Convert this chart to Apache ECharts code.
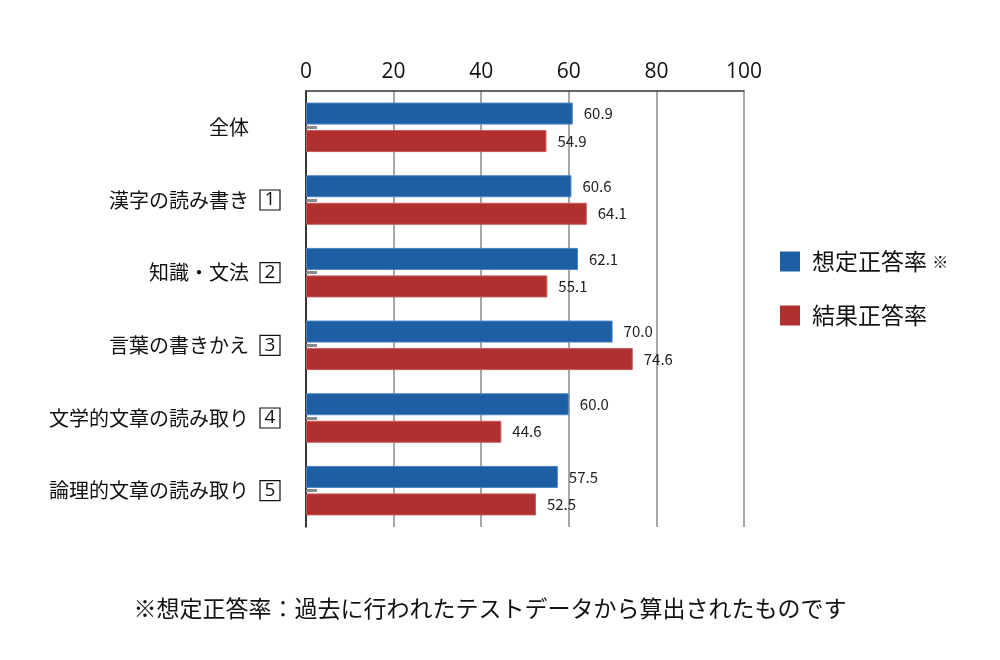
<!DOCTYPE html>
<html><head><meta charset="utf-8">
<script src="https://cdn.jsdelivr.net/npm/echarts@6/dist/echarts.min.js"></script>
<style>html,body{margin:0;padding:0;background:#fff}#c{width:1000px;height:660px}</style>
</head><body><div id="c"></div>
<script>
const categories = ['全体','漢字の読み書き','知識・文法','言葉の書きかえ','文学的文章の読み取り','論理的文章の読み取り'];
const itemNumbers = ['','1','2','3','4','5'];
const expectedRate = [60.9, 60.6, 62.1, 70.0, 60.0, 57.5];
const actualRate = [54.9, 64.1, 55.1, 74.6, 44.6, 52.5];
const xTicks = [0, 20, 40, 60, 80, 100];
const seriesNames = ['想定正答率','結果正答率'];
const footnote = '※想定正答率：過去に行われたテストデータから算出されたものです';

const FONT = '"Noto Sans CJK JP", "Noto Sans", sans-serif';
const chart = echarts.init(document.getElementById('c'), null, {renderer:'canvas'});
const labelStyle = {show:true, position:'right', distance:11, fontSize:15, color:'#222', fontFamily:FONT, formatter: p => p.value.toFixed(1)};
chart.setOption({
  animation:false,
  grid:{left:306, right:256, top:91, bottom:133, containLabel:false},
  xAxis:{
    type:'value', position:'top', min:xTicks[0], max:xTicks[xTicks.length-1], interval:20,
    axisLine:{show:true, lineStyle:{color:'#333', width:1.5}},
    axisTick:{show:false},
    axisLabel:{fontSize:21, color:'#111', margin:8, fontFamily:'"Open Sans", "Noto Sans", sans-serif'},
    splitLine:{show:true, lineStyle:{color:'#8a8a8a', width:1.5}}
  },
  yAxis:{
    type:'category', inverse:true, data:categories,
    axisLine:{show:true, lineStyle:{color:'#111', width:1.5}},
    axisTick:{show:true, inside:true, alignWithLabel:true, length:11, lineStyle:{color:'#8a8a8a', width:3}},
    axisLabel:{
      margin:26, fontFamily:FONT,
      formatter:(v, i) => '{t|' + v + '}{g|}' + (itemNumbers[i] ? '{b|' + itemNumbers[i] + '}' : '{e|}'),
      rich:{
        t:{fontSize:20, color:'#111', fontFamily:FONT},
        g:{width:11},
        b:{fontSize:19, color:'#111', fontFamily:'"Open Sans", "Noto Sans", sans-serif', borderColor:'#111', borderWidth:1.2, width:20, height:20, align:'center', lineHeight:20, padding:[0,0,0,0]},
        e:{width:20, height:20}
      }
    }
  },
  legend:{
    orient:'vertical', left:775, top:245, itemWidth:20, itemHeight:20, itemGap:31,
    icon:'rect', itemStyle:{borderWidth:0},
    textStyle:{fontSize:23, color:'#111', fontFamily:FONT, padding:[0,0,0,7],
      rich:{s:{fontSize:16, color:'#111', fontFamily:FONT}}},
    formatter: n => n === seriesNames[0] ? n + ' {s|※}' : n,
    data:seriesNames
  },
  series:[
    {name:seriesNames[0], type:'bar', data:expectedRate, barWidth:22, barGap:'25%',
     itemStyle:{color:'#1d5ea5', borderColor:'#4d83c0', borderWidth:1}, label:labelStyle},
    {name:seriesNames[1], type:'bar', data:actualRate, barWidth:22, barGap:'25%',
     itemStyle:{color:'#b02f2f', borderColor:'#c85a5a', borderWidth:1}, label:labelStyle}
  ],
  graphic:[{type:'text', x:490, y:597, style:{text:footnote, fontSize:23, fill:'#111', fontFamily:FONT, textAlign:'center'}}]
});
</script></body></html>
